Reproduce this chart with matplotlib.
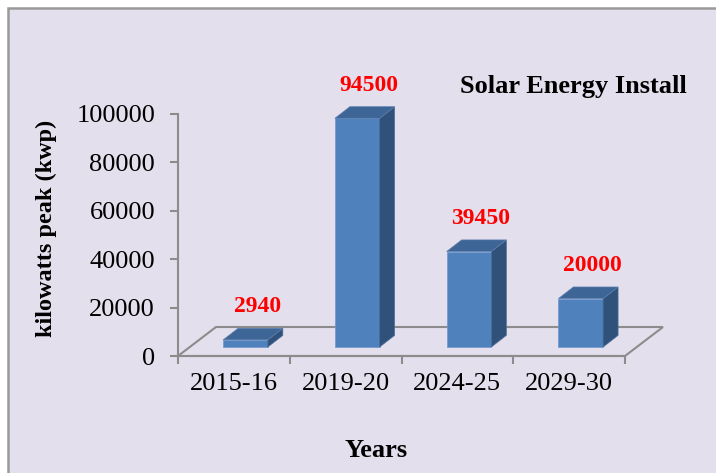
import matplotlib.pyplot as plt
from matplotlib.patches import Polygon, Rectangle

# data
years = ['2015-16', '2019-20', '2024-25', '2029-30']
kwp = [2940, 94500, 39450, 20000]
yticks = [0, 20000, 40000, 60000, 80000, 100000]

plt.rcParams['font.family'] = ['Liberation Serif', 'DejaVu Serif']

bg = '#E4DFEC'
grey = '#8C8C8C'
front_c = '#4F81BD'
top_c = '#3D6595'
side_c = '#30527A'

fig = plt.figure(figsize=(7.16, 4.73), dpi=100)
fig.patch.set_facecolor('white')
# outer frame of the chart
fig.add_artist(Rectangle((8 / 716, -0.01), 1.0, 1 - 8 / 473 + 0.01,
                         transform=fig.transFigure, facecolor=bg,
                         edgecolor='#9A9A9A', linewidth=1.8, zorder=0))

ax = fig.add_axes([178 / 716, 117 / 473, 485 / 716, 242 / 473])
ax.set_facecolor('none')
ax.set_xlim(-0.5, -0.5 + 485 / 111.75)
ax.set_ylim(0, 100000)

# pseudo 3d geometry (in data units)
floor_dx, floor_dy = 0.34, 11980      # depth of the floor
off_x, off_y = 0.104, 3720            # bar front plane set back from front edge
bar_dx, bar_dy = 0.134, 4800          # bar depth
bw = 0.40

n = len(years)
floor = Polygon([(-0.5, 0), (n - 0.5, 0), (n - 0.5 + floor_dx, floor_dy),
                 (-0.5 + floor_dx, floor_dy)], closed=True, fill=False,
                edgecolor=grey, linewidth=1.5, zorder=1, clip_on=False)
ax.add_patch(floor)

xs = [i + off_x for i in range(n)]
ax.bar(xs, kwp, width=bw, bottom=off_y, color=front_c,
       edgecolor='#7096CC', linewidth=0.5, zorder=3)
for x, v in zip(xs, kwp):
    l, r = x - bw / 2, x + bw / 2
    b, t = off_y, off_y + v
    top = Polygon([(l, t), (r, t), (r + bar_dx, t + bar_dy), (l + bar_dx, t + bar_dy)],
                  closed=True, facecolor=top_c, edgecolor='#5B7FB0',
                  linewidth=0.5, zorder=3, clip_on=False)
    side = Polygon([(r, b), (r, t), (r + bar_dx, t + bar_dy), (r + bar_dx, b + bar_dy)],
                   closed=True, facecolor=side_c, edgecolor='#4A6C9C',
                   linewidth=0.5, zorder=3, clip_on=False)
    ax.add_patch(side)
    ax.add_patch(top)
    ax.text(x + 0.107, t + 13700, str(v), color='red', fontsize=17,
            fontweight='bold', ha='center', va='center')

# axes styling
for s in ['top', 'right']:
    ax.spines[s].set_visible(False)
for s in ['left', 'bottom']:
    ax.spines[s].set_color(grey)
    ax.spines[s].set_linewidth(1.5)
ax.spines['bottom'].set_bounds(-0.5, n - 0.5)
ax.spines['left'].set_bounds(0, 100000)

ax.set_yticks(yticks)
ax.set_yticklabels([str(v) for v in yticks], fontsize=19)
ax.tick_params(axis='y', length=5.5, width=1.5, color=grey, pad=11)

ax.set_xticks([i - 0.5 for i in range(n + 1)])
ax.set_xticklabels([])
ax.tick_params(axis='x', which='major', length=5.5, width=1.5, color=grey)
ax.set_xticks(range(n), minor=True)
ax.set_xticklabels(years, minor=True, fontsize=19)
ax.tick_params(axis='x', which='minor', length=0, pad=12)

ax.set_ylabel('kilowatts peak (kwp)', fontsize=17.5, fontweight='bold')
ax.yaxis.set_label_coords(-0.249, 0.529)
ax.set_xlabel('Years', fontsize=19, fontweight='bold')
ax.xaxis.set_label_coords(0.408, -0.343)

fig.text(573 / 716, 1 - 86 / 473, 'Solar Energy Install', fontsize=19,
         fontweight='bold', ha='center', va='center')

fig.savefig('out.png', dpi=100, facecolor=fig.get_facecolor())
